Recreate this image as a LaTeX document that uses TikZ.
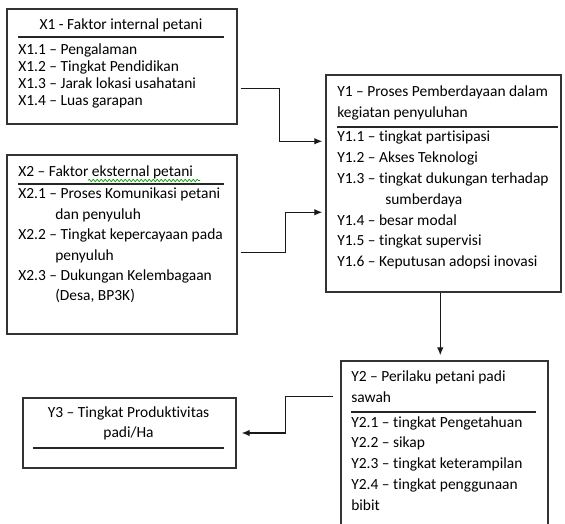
\documentclass[tikz,border=0pt]{standalone}
\usepackage{fontspec}
\setmainfont{Carlito}[Ligatures={TeX,NoCommon}]
\usetikzlibrary{positioning,fit,calc,arrows.meta,decorations.pathmorphing}
\tikzstyle{box}=[draw=black!80,line width=1.1pt,inner sep=0pt]
\tikzstyle{row}=[anchor=base west,inner sep=0pt,text=black,font=\fontsize{11.6}{14}\selectfont]
\tikzstyle{head}=[row,anchor=base]
\tikzstyle{rule}=[draw=black!85,line width=1pt]
\tikzstyle{edge}=[draw=black!90,line width=0.9pt,-{Latex[length=6pt,width=5pt]}]

\begin{document}
\begin{tikzpicture}[x=0.75pt,y=-0.75pt]

  \clip (0,0) rectangle (565,524);
  \fill[white] (0,0) rectangle (565,524);

  % X1 - faktor internal
  \node[box,fit={(7,9) (237,124)}] (x1) {};
  \node[head] (x1t) at (121,30) {X1 - Faktor internal petani};
  \draw[rule] (18,37) -- (224,37);
  \foreach \y/\name/\label in {55/x11/X1.1 -- Pengalaman, 72/x12/X1.2 -- Tingkat Pendidikan,
                               89/x13/X1.3 -- Jarak lokasi usahatani, 106/x14/X1.4 -- Luas garapan}
     \node[row] (\name) at (18,\y) {\label};

  % X2 - faktor eksternal
  \node[box,fit={(7,155) (237,334)}] (x2) {};
  \node[row] (x2t) at (18,177) {X2 -- Faktor eksternal petani};
  \draw[green!60!black,line width=0.5pt,decorate,decoration={snake,amplitude=0.9pt,segment length=3pt}] (88,180.5) -- (200,180.5);
  \draw[rule] (18,184) -- (224,184);
  \foreach \y/\name/\label in {199/x21/X2.1 -- Proses Komunikasi petani, 240/x22/X2.2 -- Tingkat kepercayaan pada,
                               281/x23/X2.3 -- Dukungan Kelembagaan}
     \node[row] (\name) at (18,\y) {\label};
  \node[row] (x21b) at (55,219.5) {dan penyuluh};
  \node[row] (x22b) at (55,260.5) {penyuluh};
  \node[row] (x23b) at (55,301) {(Desa, BP3K)};

  % Y1 - proses pemberdayaan
  \node[box,fit={(326,75) (561,292)}] (y1) {};
  \node[row] (y1t) at (337,97) {Y1 -- Proses Pemberdayaan dalam};
  \node[row] (y1tb) at (337,118) {kegiatan penyuluhan};
  \draw[rule] (337,127) -- (558,127);
  \foreach \y/\name/\label in {142/y11/Y1.1 -- tingkat partisipasi, 162.8/y12/Y1.2 -- Akses Teknologi,
                               183.6/y13/Y1.3 -- tingkat dukungan terhadap,
                               225.2/y14/Y1.4 -- besar modal, 246/y15/Y1.5 -- tingkat supervisi,
                               266.8/y16/Y1.6 -- Keputusan adopsi inovasi}
     \node[row] (\name) at (337,\y) {\label};
  \node[row] (y13b) at (385,204.4) {sumberdaya};

  % Y2 - perilaku petani
  \node[box,fit={(341,361) (548,535)}] (y2) {};
  \node[row] (y2t) at (351,382) {Y2 -- Perilaku petani padi};
  \node[row] (y2tb) at (351,402.5) {sawah};
  \draw[rule] (351,412) -- (536,412);
  \foreach \y/\name/\label in {427/y21/Y2.1 -- tingkat Pengetahuan, 448/y22/Y2.2 -- sikap,
                               468.5/y23/Y2.3 -- tingkat keterampilan, 489/y24/Y2.4 -- tingkat penggunaan,
                               510/y24b/bibit}
     \node[row] (\name) at (351,\y) {\label};

  % Y3 - produktivitas
  \node[box,fit={(23,398) (236,468)}] (y3) {};
  \node[head] (y3t) at (128.5,417) {Y3 -- Tingkat Produktivitas};
  \node[head] (y3tb) at (128.5,438) {padi/Ha};
  \draw[rule] (33,448) -- (224,448);

  % connectors
  \draw[edge] ($(x1.north east)+(3,80)$) -- ++(39,0) |- ($(y1.north west)+(-3,67)$);
  \draw[edge] ($(x2.north east)+(3,98)$) -- ++(45,0) |- ($(y1.north west)+(-3,138)$);
  \draw[edge] ($(y1.south west)+(115,0)$) -- ($(y2.north west)+(100,-5)$);
  \draw[edge] ($(y2.north west)+(-7,36)$) -- ++(-48,0) |- ($(y3.east)+(5,0)$);

\end{tikzpicture}
\end{document}
